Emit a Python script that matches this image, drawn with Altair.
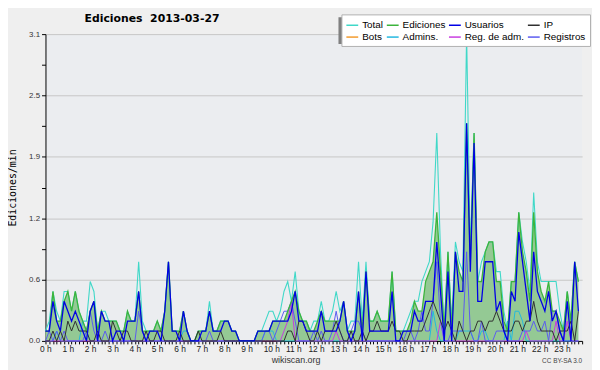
import altair as alt
import pandas as pd

# ---- data: edits per minute, 10-minute bins (6 per hour, 144 per day) ----
bins = list(range(144))

total = [
    0.1, 0.2, 0.5, 0.3, 0.2, 0.5,
    0.5, 0.3, 0.5, 0.3, 0.2, 0.2,
    0.6, 0.5, 0.1, 0.3, 0.3, 0.2,
    0.2, 0.2, 0.1, 0.1, 0.3, 0.2,
    0.2, 0.8, 0.2, 0.1, 0.1, 0.1,
    0.2, 0.1, 0.3, 0.8, 0.1, 0.1,
    0.1, 0.3, 0.1, 0.0, 0.0, 0.1,
    0.1, 0.1, 0.4, 0.1, 0.1, 0.2,
    0.2, 0.2, 0.1, 0.1, 0.0, 0.0,
    0.0, 0.0, 0.0, 0.1, 0.1, 0.2,
    0.3, 0.3, 0.2, 0.3, 0.5, 0.6,
    0.4, 0.7, 0.3, 0.2, 0.2, 0.1,
    0.2, 0.2, 0.4, 0.2, 0.2, 0.3,
    0.5, 0.3, 0.4, 0.1, 0.2, 0.2,
    0.8, 0.2, 0.8, 0.2, 0.2, 0.3,
    0.2, 0.2, 0.2, 0.7, 0.1, 0.1,
    0.1, 0.2, 0.3, 0.4, 0.4, 0.6,
    0.7, 0.8, 1.2, 2.1, 0.9, 0.1,
    0.9, 0.2, 1.0, 0.8, 0.7, 3.1,
    0.9, 2.1, 0.6, 0.8, 0.9, 1.0,
    1.0, 0.7, 0.7, 0.3, 0.1, 0.6,
    0.6, 1.3, 1.0, 0.8, 0.5, 1.5,
    0.8, 0.6, 0.6, 0.6, 0.6, 0.6,
    0.3, 0.1, 0.5, 0.2, 0.8, 0.6,
]

ediciones = [
    0.1, 0.1, 0.5, 0.2, 0.2, 0.4,
    0.5, 0.3, 0.5, 0.3, 0.2, 0.1,
    0.3, 0.4, 0.1, 0.3, 0.2, 0.2,
    0.2, 0.2, 0.1, 0.1, 0.3, 0.2,
    0.2, 0.5, 0.1, 0.1, 0.1, 0.1,
    0.2, 0.1, 0.3, 0.8, 0.1, 0.1,
    0.1, 0.3, 0.1, 0.0, 0.0, 0.1,
    0.1, 0.1, 0.3, 0.1, 0.1, 0.2,
    0.2, 0.2, 0.1, 0.1, 0.0, 0.0,
    0.0, 0.0, 0.0, 0.1, 0.1, 0.1,
    0.1, 0.2, 0.2, 0.2, 0.2, 0.3,
    0.4, 0.5, 0.3, 0.2, 0.2, 0.1,
    0.1, 0.2, 0.3, 0.2, 0.2, 0.2,
    0.2, 0.2, 0.4, 0.1, 0.1, 0.1,
    0.5, 0.1, 0.7, 0.2, 0.2, 0.3,
    0.2, 0.2, 0.2, 0.7, 0.1, 0.1,
    0.1, 0.1, 0.2, 0.4, 0.3, 0.3,
    0.6, 0.7, 0.8, 1.3, 0.7, 0.1,
    0.9, 0.1, 0.9, 0.7, 0.6, 2.2,
    0.8, 2.1, 0.6, 0.6, 0.9, 1.0,
    1.0, 0.6, 0.6, 0.2, 0.1, 0.6,
    0.6, 1.3, 0.9, 0.7, 0.4, 1.3,
    0.7, 0.5, 0.4, 0.6, 0.3, 0.3,
    0.2, 0.1, 0.5, 0.2, 0.8, 0.6,
]

usuarios = [
    0.1, 0.1, 0.4, 0.2, 0.1, 0.4,
    0.3, 0.2, 0.3, 0.2, 0.1, 0.0,
    0.3, 0.4, 0.0, 0.3, 0.2, 0.2,
    0.0, 0.1, 0.1, 0.0, 0.2, 0.2,
    0.2, 0.5, 0.1, 0.0, 0.1, 0.1,
    0.1, 0.0, 0.3, 0.8, 0.1, 0.1,
    0.0, 0.3, 0.1, 0.0, 0.0, 0.0,
    0.1, 0.1, 0.3, 0.1, 0.1, 0.1,
    0.2, 0.2, 0.1, 0.1, 0.0, 0.0,
    0.0, 0.0, 0.0, 0.1, 0.1, 0.1,
    0.1, 0.2, 0.2, 0.2, 0.2, 0.2,
    0.3, 0.5, 0.2, 0.2, 0.1, 0.1,
    0.1, 0.1, 0.3, 0.1, 0.1, 0.1,
    0.1, 0.2, 0.4, 0.1, 0.0, 0.1,
    0.5, 0.0, 0.7, 0.1, 0.1, 0.1,
    0.1, 0.1, 0.1, 0.5, 0.0, 0.0,
    0.1, 0.1, 0.1, 0.3, 0.2, 0.2,
    0.4, 0.4, 0.4, 1.0, 0.5, 0.0,
    0.7, 0.0, 0.9, 0.5, 0.5, 2.2,
    0.7, 2.0, 0.4, 0.4, 0.8, 0.8,
    0.8, 0.3, 0.4, 0.1, 0.0, 0.5,
    0.4, 1.1, 0.8, 0.5, 0.2, 0.9,
    0.5, 0.4, 0.3, 0.5, 0.2, 0.3,
    0.1, 0.0, 0.4, 0.0, 0.8, 0.3,
]

ip = [
    0.0, 0.0, 0.1, 0.0, 0.1, 0.0,
    0.2, 0.1, 0.2, 0.1, 0.1, 0.1,
    0.0, 0.0, 0.1, 0.0, 0.0, 0.0,
    0.2, 0.1, 0.0, 0.1, 0.1, 0.0,
    0.0, 0.0, 0.0, 0.1, 0.0, 0.0,
    0.1, 0.1, 0.0, 0.0, 0.0, 0.0,
    0.1, 0.0, 0.0, 0.0, 0.0, 0.1,
    0.0, 0.0, 0.0, 0.0, 0.0, 0.1,
    0.0, 0.0, 0.0, 0.0, 0.0, 0.0,
    0.0, 0.0, 0.0, 0.0, 0.0, 0.0,
    0.0, 0.0, 0.0, 0.0, 0.0, 0.1,
    0.1, 0.0, 0.2, 0.2, 0.1, 0.0,
    0.0, 0.1, 0.0, 0.1, 0.1, 0.1,
    0.2, 0.1, 0.0, 0.0, 0.1, 0.0,
    0.0, 0.1, 0.0, 0.1, 0.1, 0.2,
    0.1, 0.1, 0.1, 0.2, 0.1, 0.1,
    0.0, 0.0, 0.1, 0.1, 0.1, 0.1,
    0.2, 0.3, 0.4, 0.3, 0.2, 0.1,
    0.2, 0.1, 0.0, 0.2, 0.1, 0.0,
    0.1, 0.1, 0.2, 0.2, 0.1, 0.2,
    0.2, 0.3, 0.2, 0.1, 0.1, 0.1,
    0.2, 0.2, 0.1, 0.2, 0.2, 0.4,
    0.2, 0.1, 0.1, 0.1, 0.1, 0.0,
    0.1, 0.1, 0.1, 0.2, 0.0, 0.3,
]

admins = [
    0.0, 0.0, 0.0, 0.1, 0.0, 0.0,
    0.0, 0.0, 0.0, 0.0, 0.2, 0.1,
    0.0, 0.0, 0.0, 0.0, 0.0, 0.0,
    0.0, 0.0, 0.0, 0.0, 0.0, 0.0,
    0.0, 0.0, 0.0, 0.0, 0.0, 0.0,
    0.0, 0.0, 0.0, 0.0, 0.0, 0.0,
    0.0, 0.1, 0.1, 0.0, 0.0, 0.0,
    0.0, 0.0, 0.0, 0.0, 0.0, 0.0,
    0.0, 0.0, 0.0, 0.0, 0.0, 0.0,
    0.0, 0.0, 0.0, 0.0, 0.0, 0.1,
    0.1, 0.1, 0.0, 0.0, 0.0, 0.0,
    0.0, 0.0, 0.0, 0.0, 0.0, 0.0,
    0.0, 0.0, 0.0, 0.0, 0.0, 0.0,
    0.0, 0.0, 0.0, 0.0, 0.0, 0.0,
    0.0, 0.0, 0.0, 0.0, 0.0, 0.0,
    0.0, 0.0, 0.0, 0.0, 0.0, 0.0,
    0.0, 0.0, 0.0, 0.0, 0.0, 0.0,
    0.0, 0.0, 0.3, 0.1, 0.0, 0.0,
    0.0, 0.0, 0.0, 0.1, 0.1, 0.1,
    0.1, 0.0, 0.0, 0.1, 0.1, 0.0,
    0.0, 0.0, 0.0, 0.0, 0.2, 0.0,
    0.3, 0.3, 0.2, 0.0, 0.0, 0.0,
    0.0, 0.0, 0.0, 0.0, 0.0, 0.0,
    0.0, 0.0, 0.0, 0.0, 0.0, 0.0,
]

reg_adm = [
    0.0, 0.0, 0.0, 0.0, 0.0, 0.0,
    0.0, 0.0, 0.0, 0.0, 0.0, 0.0,
    0.0, 0.0, 0.0, 0.0, 0.0, 0.0,
    0.0, 0.0, 0.0, 0.0, 0.0, 0.0,
    0.0, 0.0, 0.0, 0.0, 0.0, 0.0,
    0.0, 0.0, 0.0, 0.0, 0.0, 0.0,
    0.0, 0.0, 0.0, 0.0, 0.0, 0.0,
    0.0, 0.0, 0.0, 0.0, 0.0, 0.0,
    0.0, 0.0, 0.0, 0.0, 0.0, 0.0,
    0.0, 0.0, 0.0, 0.0, 0.0, 0.0,
    0.0, 0.0, 0.0, 0.0, 0.1, 0.2,
    0.4, 0.0, 0.0, 0.0, 0.0, 0.0,
    0.0, 0.0, 0.0, 0.0, 0.0, 0.0,
    0.1, 0.0, 0.0, 0.0, 0.0, 0.0,
    0.0, 0.0, 0.0, 0.0, 0.0, 0.0,
    0.0, 0.0, 0.0, 0.0, 0.0, 0.0,
    0.0, 0.0, 0.0, 0.0, 0.0, 0.0,
    0.0, 0.0, 0.0, 0.0, 0.2, 0.0,
    0.0, 0.0, 0.0, 0.0, 0.0, 0.0,
    0.0, 0.0, 0.0, 0.0, 0.0, 0.0,
    0.0, 0.0, 0.0, 0.0, 0.0, 0.0,
    0.0, 0.0, 0.0, 0.1, 0.0, 0.0,
    0.0, 0.0, 0.0, 0.0, 0.0, 0.2,
    0.0, 0.0, 0.2, 0.0, 0.0, 0.0,
]

registros = [
    0.0, 0.1, 0.0, 0.1, 0.0, 0.1,
    0.0, 0.0, 0.0, 0.0, 0.0, 0.1,
    0.3, 0.1, 0.0, 0.0, 0.1, 0.0,
    0.0, 0.0, 0.0, 0.0, 0.0, 0.0,
    0.0, 0.3, 0.1, 0.0, 0.0, 0.0,
    0.0, 0.0, 0.0, 0.0, 0.0, 0.0,
    0.0, 0.0, 0.0, 0.0, 0.0, 0.0,
    0.0, 0.0, 0.1, 0.0, 0.0, 0.0,
    0.0, 0.0, 0.0, 0.0, 0.0, 0.0,
    0.0, 0.0, 0.0, 0.0, 0.0, 0.1,
    0.1, 0.0, 0.1, 0.2, 0.3, 0.3,
    0.4, 0.2, 0.0, 0.0, 0.0, 0.0,
    0.1, 0.0, 0.1, 0.0, 0.0, 0.1,
    0.3, 0.1, 0.0, 0.0, 0.1, 0.2,
    0.2, 0.1, 0.0, 0.0, 0.0, 0.0,
    0.0, 0.0, 0.0, 0.0, 0.0, 0.0,
    0.0, 0.1, 0.1, 0.0, 0.1, 0.3,
    0.1, 0.1, 0.4, 0.8, 0.2, 0.0,
    0.0, 0.1, 0.1, 0.1, 0.1, 0.9,
    0.1, 0.0, 0.0, 0.2, 0.0, 0.0,
    0.0, 0.1, 0.1, 0.1, 0.0, 0.0,
    0.0, 0.0, 0.1, 0.1, 0.1, 0.2,
    0.1, 0.1, 0.2, 0.0, 0.3, 0.3,
    0.1, 0.0, 0.0, 0.0, 0.0, 0.0,
]

series_names = ["Total", "Ediciones", "Usuarios", "IP", "Bots",
                "Admins.", "Reg. de adm.", "Registros"]
series_colors = ["#40d8c8", "#3cb43c", "#0000e6", "#303030", "#f39a2c",
                 "#22b8e0", "#c83ce0", "#5a5af0"]

y_ticks = [0, 0.31, 0.62, 0.93, 1.24, 1.55, 1.86, 2.17, 2.48, 2.79, 3.1]
x_ticks = list(range(0, 145))

title_text = "Ediciones\u00a0 2013-03-27"
footer_text = "wikiscan.org"
license_text = "CC BY-SA 3.0"

# ---- build long table ----
series_data = {
    "Total": total, "Ediciones": ediciones, "Usuarios": usuarios, "IP": ip,
    "Admins.": admins, "Reg. de adm.": reg_adm, "Registros": registros,
}
rows = []
for name, vals in series_data.items():
    for b, v in zip(bins, vals):
        rows.append({"bin": b, "series": name, "value": v})
df = pd.DataFrame(rows)

x_enc = alt.X(
    "bin:Q",
    scale=alt.Scale(domain=[0, 144], nice=False, zero=False),
    axis=alt.Axis(
        values=x_ticks, title=None, grid=False, tickSize=3, tickColor="#000",
        domainColor="#000", labelFont="Liberation Sans", labelFontSize=8.5,
        labelColor="#222", labelPadding=1, labelFlush=False, labelOverlap=False,
        labelAlign="left", labelOffset=-6,
        labelExpr="datum.value % 6 == 0 && datum.value < 144 ? (datum.value / 6) + ' h' : ''",
    ),
)
y_enc = alt.Y(
    "value:Q",
    scale=alt.Scale(domain=[0, 3.1], nice=False),
    axis=alt.Axis(
        values=y_ticks, grid=True, gridColor="#c6c6c6",
        gridOpacity={"condition": {"test": "round(datum.value*100) % 62 == 0", "value": 1}, "value": 0},
        tickSize=4, tickColor="#000", domainColor="#000",
        labelFont="Liberation Sans", labelFontSize=8, labelColor="#333", labelPadding=2,
        labelFlush=False, labelOverlap=False,
        labelExpr="round(datum.value*100) % 62 == 0 ? format(datum.value, '.1f') : ''",
        title="Ediciones/min", titleFont="DejaVu Sans Mono", titleFontSize=10,
        titleFontWeight="normal", titleColor="#000", titleX=-28, titleY=155.5,
    ),
)
color_enc = alt.Color(
    "series:N",
    scale=alt.Scale(domain=series_names, range=series_colors),
    legend=alt.Legend(
        orient="none", legendX=300, legendY=-20, columns=4, direction="horizontal",
        title=None, symbolType="stroke", symbolSize=144, symbolStrokeWidth=1.5,
        labelFont="Liberation Sans", labelFontSize=10, labelColor="#000",
        labelOffset=3, columnPadding=0, rowPadding=0, padding=4,
        fillColor="#ffffff", strokeColor="#b0b0b0", labelLimit=200,
    ),
)

base = alt.Chart(df)

area = base.transform_filter(alt.datum.series == "Ediciones").mark_area(
    color="#94c994", opacity=1
).encode(x=x_enc, y=y_enc)

line_layers = []
draw_order = [("Total", 1.1), ("Admins.", 1.0), ("Reg. de adm.", 1.0),
              ("Registros", 1.0), ("Ediciones", 1.3), ("IP", 1.0), ("Usuarios", 1.3)]
for name, sw in draw_order:
    line_layers.append(
        base.transform_filter(alt.datum.series == name)
        .mark_line(strokeWidth=sw, interpolate="linear")
        .encode(x=x_enc, y=y_enc, color=color_enc)
    )

one = pd.DataFrame({"k": [0]})
shadow = alt.Chart(one).mark_rect(color="#808080").encode(
    x=alt.value(297), x2=alt.value(537), y=alt.value(-17), y2=alt.value(10)
)
title_mark = alt.Chart(pd.DataFrame({"t": [title_text]})).mark_text(
    font="DejaVu Sans", fontSize=11, fontWeight="bold", color="#000",
    align="center", baseline="middle"
).encode(text="t:N", x=alt.value(108), y=alt.value(-15))
footer_mark = alt.Chart(pd.DataFrame({"t": [footer_text]})).mark_text(
    font="Liberation Sans", fontSize=9, color="#333", align="center", baseline="alphabetic"
).encode(text="t:N", x=alt.value(254), y=alt.value(333))
license_mark = alt.Chart(pd.DataFrame({"t": [license_text]})).mark_text(
    font="Liberation Sans", fontSize=6.5, color="#444", align="right", baseline="alphabetic"
).encode(text="t:N", x=alt.value(544), y=alt.value(333))

chart = alt.layer(area, *line_layers, shadow, title_mark, footer_mark, license_mark).properties(
    width=544, height=311,
    autosize=alt.AutoSizeParams(type="none"),
    padding={"left": 38, "top": 24, "right": 10, "bottom": 27},
    background="#efefef",
).configure_view(fill="#ebedf0", stroke=None)

chart.save("out.html", embed_options={"renderer": "svg", "actions": False})
